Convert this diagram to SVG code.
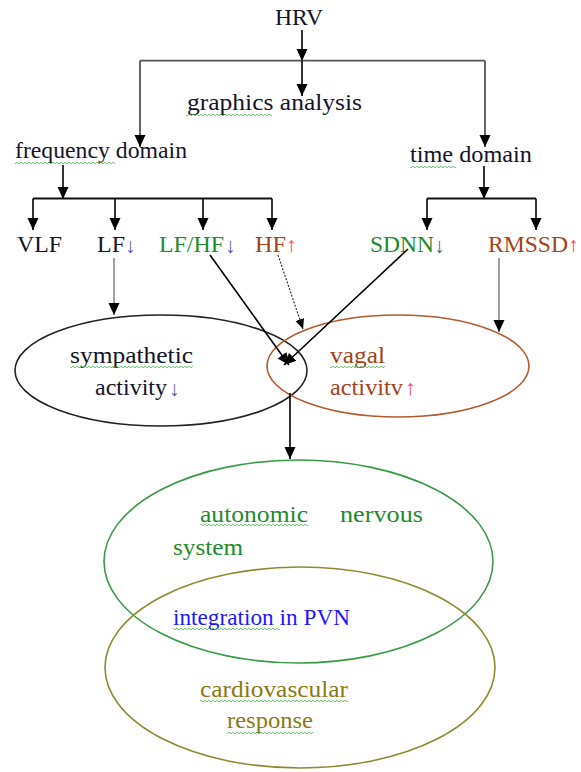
<svg xmlns="http://www.w3.org/2000/svg" width="581" height="772" viewBox="0 0 581 772">
  <style>
    text { font-family: "Liberation Serif", "Times New Roman", "DejaVu Serif", serif; font-size: 24px; }
    .ink { fill: #14142a; }
    .green { fill: #1f8a2e; }
    .rust { fill: #a4421c; }
    .down { fill: #5a55b0; font-size: 21px; }
    .up { fill: #ff3d6e; font-size: 21px; }
    .blue { fill: #1a1aff; }
    .olive { fill: #8a7a12; }
    .arrow { stroke: #000; stroke-width: 1.6; fill: none; }
    .thin { stroke: #555; stroke-width: 1.1; fill: none; }
    .bar { stroke: #555; stroke-width: 1.8; fill: none; }
    .bar-dark { stroke: #111; stroke-width: 1.8; fill: none; }
    .dotted { stroke: #222; stroke-width: 1.1; stroke-dasharray: 2 1.5; fill: none; }
    .ring { fill: none; stroke-width: 1.6; }
    .squiggle { fill: url(#wave); }
  </style>
  <defs>
    <marker id="head" viewBox="0 0 12 12" refX="12" refY="6" markerWidth="12" markerHeight="12" markerUnits="userSpaceOnUse" orient="auto">
      <path d="M0,0.5 L12,6 L0,11.5 z" fill="#000"/>
    </marker>
    <marker id="head-sm" viewBox="0 0 10 10" refX="10" refY="5" markerWidth="10" markerHeight="10" markerUnits="userSpaceOnUse" orient="auto">
      <path d="M0,0.5 L10,5 L0,9.5 z" fill="#000"/>
    </marker>
    <pattern id="wave" width="4" height="2" patternUnits="userSpaceOnUse">
      <path d="M0 1 Q1 -0.5 2 1 T4 1" fill="none" stroke="#43b04a" stroke-width="0.8"/>
    </pattern>
  </defs>

  <!-- ellipses -->
  <g id="sympathetic">
    <ellipse class="ring" cx="161" cy="370.5" rx="146" ry="55.5" stroke="#222"/>
    <text class="ink" x="70" y="363" textLength="123" lengthAdjust="spacingAndGlyphs">sympathetic</text>
    <rect class="squiggle" x="70" y="366" width="123" height="2"/>
    <text class="ink" x="95" y="395" textLength="72" lengthAdjust="spacingAndGlyphs">activity</text>
    <text class="down" x="169" y="396">↓</text>
  </g>
  <g id="vagal">
    <ellipse class="ring" cx="398" cy="366" rx="131" ry="51" stroke="#b35a2e"/>
    <text class="rust" x="330" y="363" textLength="55" lengthAdjust="spacingAndGlyphs">vagal</text>
    <rect class="squiggle" x="330" y="366" width="55" height="2"/>
    <text class="rust" x="330" y="395" textLength="73" lengthAdjust="spacingAndGlyphs">activitv</text>
    <text class="up" x="405" y="395">↑</text>
  </g>
  <g id="autonomic">
    <ellipse class="ring" cx="298.5" cy="561.5" rx="194.5" ry="101.5" stroke="#3a9a48"/>
    <text class="green" x="200" y="522" textLength="108" lengthAdjust="spacingAndGlyphs">autonomic</text>
    <rect class="squiggle" x="200" y="524" width="108" height="2"/>
    <text class="green" x="340" y="522" textLength="83" lengthAdjust="spacingAndGlyphs">nervous</text>
    <text class="green" x="173" y="555" textLength="70" lengthAdjust="spacingAndGlyphs">system</text>
    <text class="blue" x="173" y="625" textLength="177" lengthAdjust="spacingAndGlyphs">integration in PVN</text>
    <rect class="squiggle" x="173" y="628" width="107" height="2"/>
  </g>
  <g id="cardiovascular">
    <ellipse class="ring" cx="300" cy="667.5" rx="195" ry="100.5" stroke="#8f8a30"/>
    <text class="olive" x="200" y="697" textLength="148" lengthAdjust="spacingAndGlyphs">cardiovascular</text>
    <rect class="squiggle" x="200" y="700" width="148" height="2"/>
    <text class="olive" x="227" y="728" textLength="86" lengthAdjust="spacingAndGlyphs">response</text>
    <rect class="squiggle" x="227" y="732" width="86" height="2"/>
  </g>

  <!-- text nodes -->
  <g id="hrv">
    <text class="ink" x="275" y="25" textLength="48" lengthAdjust="spacingAndGlyphs">HRV</text>
  </g>
  <g id="graphics">
    <text class="ink" x="187" y="110" textLength="175" lengthAdjust="spacingAndGlyphs">graphics  analysis</text>
    <rect class="squiggle" x="186" y="114" width="86" height="2"/>
  </g>
  <g id="frequency">
    <text class="ink" x="15" y="158" textLength="172" lengthAdjust="spacingAndGlyphs">frequency domain</text>
    <rect class="squiggle" x="15" y="162" width="100" height="2"/>
  </g>
  <g id="time">
    <text class="ink" x="410" y="162" textLength="122" lengthAdjust="spacingAndGlyphs">time domain</text>
    <rect class="squiggle" x="410" y="166" width="46" height="2"/>
  </g>
  <g id="vlf">
    <text class="ink" x="17" y="252" textLength="45" lengthAdjust="spacingAndGlyphs">VLF</text>
  </g>
  <g id="lf">
    <text class="ink" x="97" y="252" textLength="28" lengthAdjust="spacingAndGlyphs">LF</text>
    <text class="down" x="125" y="253">↓</text>
  </g>
  <g id="lfhf">
    <text class="green" x="159" y="252" textLength="65" lengthAdjust="spacingAndGlyphs">LF/HF</text>
    <text class="down" x="225" y="253">↓</text>
  </g>
  <g id="hf">
    <text class="rust" x="255" y="252" textLength="31" lengthAdjust="spacingAndGlyphs">HF</text>
    <text class="up" x="286" y="252">↑</text>
  </g>
  <g id="sdnn">
    <text class="green" x="370" y="252" textLength="64" lengthAdjust="spacingAndGlyphs">SDNN</text>
    <text class="down" x="434" y="253">↓</text>
  </g>
  <g id="rmssd">
    <text class="rust" x="488" y="252" textLength="80" lengthAdjust="spacingAndGlyphs">RMSSD</text>
    <text class="up" x="568" y="252">↑</text>
  </g>

  <!-- connectors -->
  <g id="connectors">
    <line class="arrow" x1="302" y1="30" x2="302" y2="61" marker-end="url(#head)"/>
    <path class="bar" d="M140 60.7 H485"/>
    <line class="bar" x1="140" y1="60.7" x2="140" y2="147" marker-end="url(#head)"/>
    <line class="bar" x1="485" y1="60.7" x2="485" y2="147" marker-end="url(#head)"/>
    <line class="arrow" x1="302" y1="60.7" x2="302" y2="96" marker-end="url(#head)"/>

    <line class="arrow" x1="63" y1="165" x2="63" y2="199" marker-end="url(#head)"/>
    <path class="bar-dark" d="M33 198.5 H272"/>
    <line class="arrow" x1="33" y1="198.5" x2="33" y2="230" marker-end="url(#head)"/>
    <line class="arrow" x1="115" y1="198.5" x2="115" y2="230" marker-end="url(#head)"/>
    <line class="arrow" x1="203" y1="198.5" x2="203" y2="230" marker-end="url(#head)"/>
    <line class="arrow" x1="272" y1="198.5" x2="272" y2="230" marker-end="url(#head)"/>

    <line class="arrow" x1="484" y1="166" x2="484" y2="199" marker-end="url(#head)"/>
    <path class="bar-dark" d="M427 198.5 H536"/>
    <line class="arrow" x1="427" y1="198.5" x2="427" y2="230" marker-end="url(#head)"/>
    <line class="arrow" x1="536" y1="198.5" x2="536" y2="230" marker-end="url(#head)"/>

    <line class="thin" x1="114" y1="258" x2="114" y2="315" marker-end="url(#head)"/>
    <line class="thin" x1="499" y1="258" x2="499" y2="332" marker-end="url(#head)"/>
    <line class="arrow" x1="210" y1="255" x2="289" y2="365" marker-end="url(#head)"/>
    <line class="arrow" x1="408" y1="249" x2="284" y2="365" marker-end="url(#head)"/>
    <line class="dotted" x1="278" y1="255" x2="303" y2="329" marker-end="url(#head-sm)"/>
    <line class="arrow" x1="290" y1="393" x2="290" y2="459" marker-end="url(#head)"/>
  </g>
</svg>
